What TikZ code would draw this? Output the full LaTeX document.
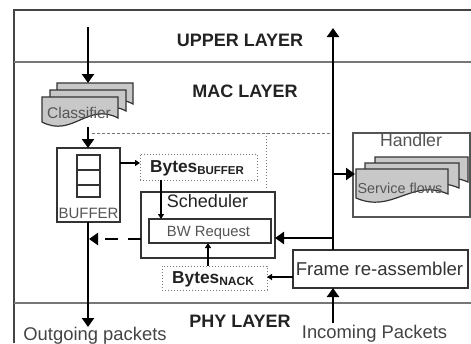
\documentclass[tikz,border=0pt]{standalone}
\usepackage{fontspec}
\setmainfont{Liberation Sans}
\usetikzlibrary{arrows.meta}
\definecolor{ink}{HTML}{222222}
\definecolor{boxc}{HTML}{333333}
\definecolor{grayt}{HTML}{555555}
\definecolor{docfill}{HTML}{C8C8C8}
\definecolor{linec}{HTML}{777777}
\definecolor{framec}{HTML}{444444}
\newcommand\docshp[5]{\path[#5] (#1,#2) -- (#1+#3,#2) -- (#1+#3,#2+#4-4) .. controls (#1+0.6*#3,#2+#4-20) and (#1+0.4*#3,#2+#4+16) .. (#1,#2+#4) -- cycle;}
\begin{document}
\begin{tikzpicture}[x=1pt,y=-1pt,
  box/.style={draw=boxc,line width=1.5pt,inner sep=0pt,outer sep=0pt},
  graybox/.style={draw=grayt,line width=1.2pt,inner sep=0pt,outer sep=0pt},
  dotbox/.style={draw=linec,line width=1pt,dotted,inner sep=0pt,outer sep=0pt},
  doc/.style={draw=boxc,fill=docfill,line width=1.2pt},
  bigarrow/.style={line width=2.6pt,-{Triangle[length=9pt,width=12pt]}},
  smallarrow/.style={line width=1.1pt,-{Triangle[length=5pt,width=6pt]}},
  lbl/.style={anchor=base,inner sep=0pt,text=ink},
  glbl/.style={anchor=base,inner sep=0pt,text=grayt},
  layerfont/.style={font=\fontsize{18}{20}\selectfont\bfseries},
  bigfont/.style={font=\fontsize{18.3}{20}\selectfont},
  midfont/.style={font=\fontsize{15}{17}\selectfont},
  bytesfont/.style={font=\fontsize{17.3}{19}\selectfont\bfseries}]
\useasboundingbox (0,0) rectangle (471,343);
\fill[white] (0,0) rectangle (471,343);

% frame and layer lines
\draw[framec,line width=2.4pt] (14,343) -- (14,10) -- (471,10);
\draw[linec,line width=1.8pt] (14,62) -- (471,62);
\draw[linec,line width=1.8pt] (14,303) -- (471,303);
\draw[linec,line width=0.9pt,dash pattern=on 3pt off 2pt] (92,133) -- (330,133);
\draw[linec,line width=1pt,dotted] (266,133) -- (266,188);

% layer labels
\node[lbl,layerfont] (upper) at (240,46) {UPPER LAYER};
\node[lbl,layerfont] (mac) at (245,97) {MAC LAYER};
\node[lbl,layerfont] (phy) at (240,327) {PHY LAYER};

% classifier stack
\docshp{57}{83}{76}{25}{doc}
\docshp{50}{90}{76}{25}{doc}
\docshp{42}{97}{76}{25}{doc}
\node[glbl,font=\fontsize{15.5}{17}\selectfont] (cls) at (79,118) {Classifier};

% buffer
\node[box,minimum width=63pt,minimum height=74pt] (buffer) at (88.5,185) {};
\node[box,line width=1.2pt,minimum width=23pt,minimum height=15pt] (cell1) at (88.5,162.5) {};
\node[box,line width=1.2pt,minimum width=23pt,minimum height=15pt] (cell2) at (88.5,177.5) {};
\node[box,line width=1.2pt,minimum width=23pt,minimum height=12pt] (cell3) at (88.5,191) {};
\node[glbl,midfont] (buflbl) at (88.5,218) {BUFFER};

% bytes buffer
\node[dotbox,minimum width=117pt,minimum height=26pt] (bbuf) at (198.5,167) {};
\node[lbl,anchor=base west,bytesfont] (bbuftxt) at (150,172) {Bytes{\fontsize{11.5}{12}\selectfont\raisebox{-2pt}{BUFFER}}};

% scheduler
\node[box,minimum width=134pt,minimum height=66pt] (sched) at (208,225) {};
\node[lbl,bigfont,font=\fontsize{18}{20}\selectfont] (schedtxt) at (207.5,207) {Scheduler};
\node[box,minimum width=122pt,minimum height=24pt] (bwr) at (210,231) {};
\node[glbl,font=\fontsize{14.8}{16}\selectfont] (bwrtxt) at (208.5,236) {BW Request};

% bytes nack
\node[dotbox,minimum width=105pt,minimum height=24pt] (bnack) at (214.5,278) {};
\node[lbl,anchor=base west,bytesfont] (bnacktxt) at (172,283) {Bytes{\fontsize{12}{12}\selectfont\raisebox{-2pt}{NACK}}};

% handler
\node[graybox,minimum width=117pt,minimum height=84pt] (handler) at (411.5,175) {};
\node[glbl,font=\fontsize{17.7}{19}\selectfont] (handtxt) at (411,146) {Handler};
\docshp{375}{157}{93}{29}{doc}
\docshp{365}{163}{94}{29}{doc}
\docshp{356}{169}{92}{29}{doc}
\node[glbl,font=\fontsize{14.4}{16}\selectfont] (sf) at (400,193) {Service flows};

% frame re-assembler
\node[box,minimum width=175pt,minimum height=38pt] (frame) at (380.5,269) {};
\node[lbl,font=\fontsize{18.6}{20}\selectfont,text=boxc] (frametxt) at (379.5,275) {Frame re-assembler};

% outside labels
\node[glbl,anchor=base,font=\fontsize{18.4}{20}\selectfont,text=framec] (outlbl) at (95,340) {Outgoing packets};
\node[glbl,anchor=base,font=\fontsize{18.4}{20}\selectfont,text=framec] (inlbl) at (374.5,338) {Incoming Packets};

% coordinates
\coordinate (topin) at (88,27);
\coordinate (clstop) at (88,83);
\coordinate (clsbot) at (88,127);
\coordinate (outend) at (88,327);
\coordinate (dashend) at (89,239);
\coordinate (upend) at (333,28);
\coordinate (j1) at (333,174);
\coordinate (sfin) at (355,174);
\coordinate (j2) at (333,238);
\coordinate (incstart) at (333,323);

% connectors
\draw[bigarrow] (topin) -- (clstop);
\draw[bigarrow] (clsbot) -- (clsbot |- buffer.north);
\draw[bigarrow] (buffer.south -| clsbot) -- (outend);
\draw[bigarrow,dash pattern=on 13pt off 10pt] ([yshift=-14pt]sched.west) -- (dashend);
\draw[smallarrow] ([yshift=22pt]buffer.east) -- ([yshift=22pt]buffer.east -| bbuf.west);
\draw[smallarrow] ([xshift=-37.5pt]bbuf.south) -- ([xshift=-37.5pt]bbuf.south |- bwr.north);
\draw[smallarrow] ([xshift=-6.5pt]bnack.north) -- ([xshift=-6.5pt]bnack.north |- bwr.south);
\draw[smallarrow] ([yshift=-8pt]frame.west) -- ([yshift=-8pt]frame.west -| bnack.east);
\draw[bigarrow] ([xshift=-47.5pt]frame.north) -- (upend);
\draw[bigarrow] (j1) -- (sfin);
\draw[bigarrow] (j2) -- (j2 -| sched.east);
\draw[bigarrow] (incstart) -- (incstart |- frame.south);
\end{tikzpicture}
\end{document}
